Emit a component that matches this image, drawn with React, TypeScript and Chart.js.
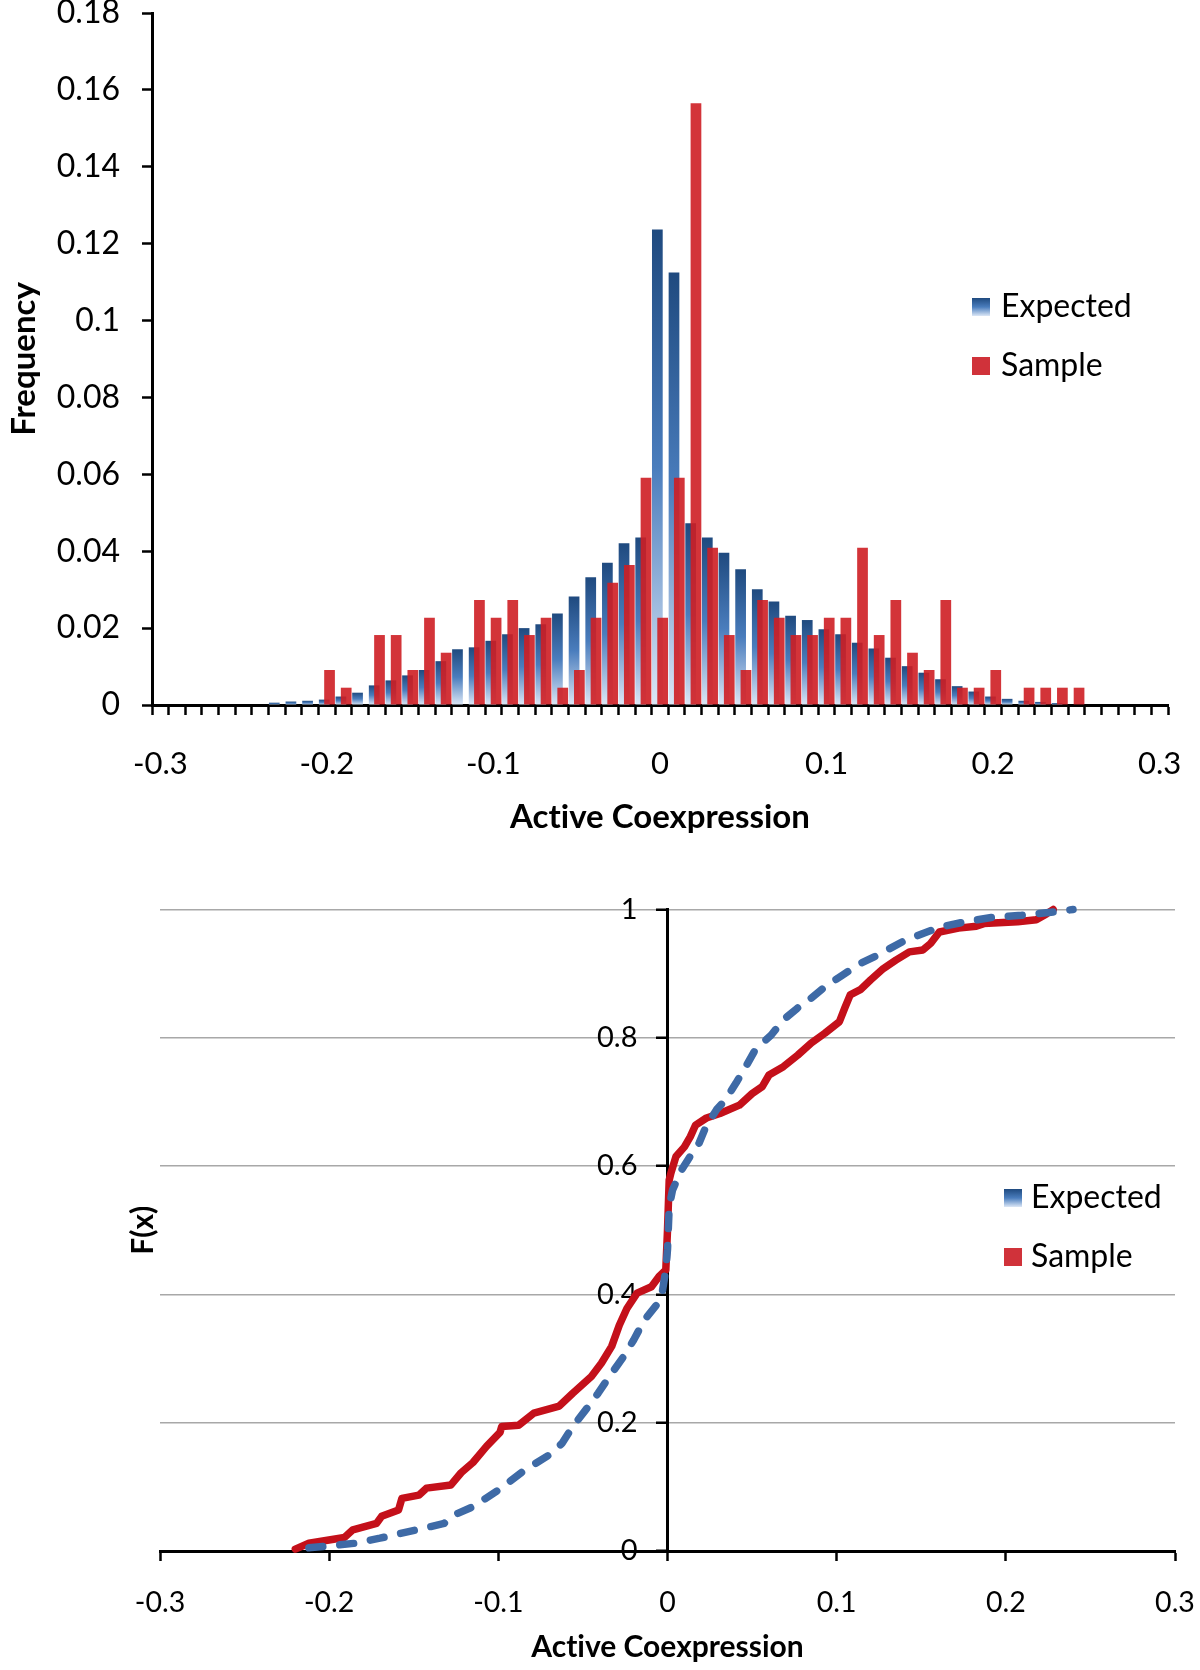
import React, { useEffect, useRef } from 'react';
import { Chart, registerables } from 'chart.js';

Chart.register(...registerables);

// ---------- Histogram data (bins of width 0.01) ----------
const binLabels = [
  '-0.3', '-0.29', '-0.28', '-0.27', '-0.26', '-0.25', '-0.24', '-0.23', '-0.22', '-0.21',
  '-0.2', '-0.19', '-0.18', '-0.17', '-0.16', '-0.15', '-0.14', '-0.13', '-0.12', '-0.11',
  '-0.1', '-0.09', '-0.08', '-0.07', '-0.06', '-0.05', '-0.04', '-0.03', '-0.02', '-0.01',
  '0', '0.01', '0.02', '0.03', '0.04', '0.05', '0.06', '0.07', '0.08', '0.09',
  '0.1', '0.11', '0.12', '0.13', '0.14', '0.15', '0.16', '0.17', '0.18', '0.19',
  '0.2', '0.21', '0.22', '0.23', '0.24', '0.25', '0.26', '0.27', '0.28', '0.29', '0.3',
];

const expectedFreq = [
  0, 0, 0, 0, 0, 0, 0, 0.0006, 0.0009, 0.0011,
  0.0014, 0.0022, 0.0032, 0.0051, 0.0064, 0.0077, 0.0091, 0.0114, 0.0145, 0.015,
  0.0167, 0.0184, 0.02, 0.021, 0.0238, 0.0282, 0.0332, 0.037, 0.0421, 0.0436,
  0.1237, 0.1125, 0.0473, 0.0436, 0.0396, 0.0353, 0.0301, 0.0269, 0.0232, 0.0221,
  0.0197, 0.0184, 0.0162, 0.0147, 0.0123, 0.0101, 0.0084, 0.0067, 0.0049, 0.0035,
  0.0022, 0.0016, 0.0011, 0.0008, 0.0005, 0, 0, 0, 0, 0, 0,
];

const sampleFreq = [
  0, 0, 0, 0, 0, 0, 0, 0, 0, 0,
  0.0091, 0.0045, 0, 0.0182, 0.0182, 0.0091, 0.0227, 0.0136, 0, 0.0273,
  0.0227, 0.0273, 0.0182, 0.0227, 0.0045, 0.0091, 0.0227, 0.0318, 0.0364, 0.0591,
  0.0227, 0.0591, 0.1565, 0.0409, 0.0182, 0.0091, 0.0273, 0.0227, 0.0182, 0.0182,
  0.0227, 0.0227, 0.0409, 0.0182, 0.0273, 0.0136, 0.0091, 0.0273, 0.0045, 0.0045,
  0.0091, 0, 0.0045, 0.0045, 0.0045, 0.0045, 0, 0, 0, 0, 0,
];

// ---------- Cumulative distribution data ----------
const sampleX = [
  -0.22, -0.212, -0.191, -0.186, -0.172, -0.169, -0.159, -0.157, -0.147, -0.1425,
  -0.128, -0.122, -0.115, -0.107, -0.099, -0.098, -0.088, -0.079, -0.064, -0.056,
  -0.045, -0.039, -0.033, -0.0285, -0.024, -0.018, -0.0095, -0.005, -0.001, 0,
  0.001, 0.002, 0.005, 0.01, 0.0135, 0.0166, 0.023, 0.031, 0.0425, 0.05,
  0.056, 0.06, 0.0685, 0.077, 0.085, 0.093, 0.1016, 0.1047, 0.108, 0.114,
  0.12, 0.1276, 0.135, 0.143, 0.151, 0.1555, 0.1607, 0.172, 0.1825, 0.187,
  0.207, 0.218, 0.224, 0.228,
];
const sampleF = [
  0.003, 0.012, 0.021, 0.033, 0.043, 0.054, 0.064, 0.082, 0.087, 0.098,
  0.103, 0.122, 0.138, 0.163, 0.185, 0.194, 0.196, 0.215, 0.226, 0.246,
  0.272, 0.293, 0.319, 0.352, 0.378, 0.402, 0.412, 0.428, 0.438, 0.5,
  0.578, 0.589, 0.615, 0.63, 0.646, 0.664, 0.675, 0.682, 0.695, 0.713,
  0.724, 0.742, 0.755, 0.773, 0.792, 0.807, 0.825, 0.846, 0.867, 0.875,
  0.89, 0.908, 0.921, 0.934, 0.937, 0.947, 0.965, 0.971, 0.974, 0.978,
  0.981, 0.984, 0.993, 1.0,
];

const expectedX = [
  -0.212, -0.1995, -0.185, -0.17, -0.145, -0.132, -0.128, -0.115, -0.1, -0.0855,
  -0.0686, -0.0623, -0.056, -0.0475, -0.041, -0.033, -0.026, -0.02, -0.0137, -0.0063,
  -0.0032, -0.001, 0, 0.001, 0.003, 0.0083, 0.0145, 0.0187, 0.0228, 0.029,
  0.0342, 0.0404, 0.0456, 0.0518, 0.0612, 0.0685, 0.0767, 0.085, 0.0933, 0.1037,
  0.114, 0.1244, 0.139, 0.1514, 0.1617, 0.1763, 0.1928, 0.2094, 0.224, 0.2397,
];
const expectedF = [
  0.005, 0.008, 0.012, 0.02, 0.035, 0.043, 0.054, 0.069, 0.095, 0.124,
  0.152, 0.168, 0.194, 0.223, 0.246, 0.277, 0.303, 0.329, 0.36, 0.384,
  0.402, 0.438, 0.47, 0.537, 0.563, 0.594, 0.62, 0.636, 0.662, 0.688,
  0.703, 0.729, 0.752, 0.781, 0.804, 0.828, 0.846, 0.862, 0.88, 0.898,
  0.916, 0.929, 0.95, 0.963, 0.973, 0.981, 0.988, 0.991, 0.995, 1.0,
];

const seriesLabels = ['Expected', 'Sample'];

// ---------- Styles ----------
const FONT = 'Lato';
const BLACK = '#000000';
const BAR_RED = 'rgba(206, 30, 36, 0.9)';
const SWATCH_RED = '#D0323A';
const LINE_RED = '#C4101A';
const LINE_BLUE = '#3E6AA6';

function blueGradient(ctx: CanvasRenderingContext2D, top: number, bottom: number) {
  const g = ctx.createLinearGradient(0, top, 0, bottom);
  g.addColorStop(0, '#1F4A7F');
  g.addColorStop(0.5, '#4A7DBD');
  g.addColorStop(1, '#DCE7F6');
  return g;
}

// Avoid the "ti" ligature of Lato so words read like the original.
const noLigatures = {
  id: 'noLigatures',
  beforeDraw(chart: any) {
    const ctx: any = chart.ctx;
    try {
      ctx.textRendering = 'optimizeSpeed';
    } catch (e) {
      /* ignore */
    }
  },
};

const sampleOnTop = {
  id: 'sampleOnTop',
  beforeDatasetDraw(_chart: any, args: any) {
    if (args.index === 1) return false;
    return true;
  },
  afterDatasetsDraw(chart: any) {
    const meta = chart.getDatasetMeta(1);
    if (meta && !meta.hidden) meta.controller.draw();
  },
};

const boxLegend = {
  id: 'boxLegend',
  afterDraw(chart: any, _args: any, opts: any) {
    const ctx: CanvasRenderingContext2D = chart.ctx;
    chart.data.datasets.forEach((ds: any, k: number) => {
      const cy = opts.y + k * opts.gap;
      const top = cy - opts.box / 2;
      ctx.save();
      ctx.fillStyle = k === 0 ? blueGradient(ctx, top, top + opts.box) : SWATCH_RED;
      ctx.fillRect(opts.x, top, opts.box, opts.box);
      ctx.fillStyle = BLACK;
      ctx.font = `${opts.size}px ${FONT}`;
      ctx.textAlign = 'left';
      ctx.textBaseline = 'middle';
      ctx.fillText(ds.label, opts.textX, cy);
      ctx.restore();
    });
  },
};

function histogramConfig(): any {
  return {
    type: 'bar',
    data: {
      labels: binLabels,
      datasets: [
        {
          label: seriesLabels[0],
          data: expectedFreq,
          backgroundColor: (c: any) => {
            const chart = c.chart;
            const ys = chart.scales && chart.scales.y;
            if (!ys || c.type !== 'data' || typeof c.raw !== 'number') return '#3A68A4';
            const top = ys.getPixelForValue(c.raw);
            const base = ys.getPixelForValue(0);
            if (!isFinite(top) || !isFinite(base) || base - top < 0.5) return '#2A5A94';
            return blueGradient(chart.ctx, top, base);
          },
          borderWidth: 0,
          categoryPercentage: 0.637,
          barPercentage: 2.02,
        },
        {
          label: seriesLabels[1],
          data: sampleFreq,
          backgroundColor: BAR_RED,
          borderWidth: 0,
          categoryPercentage: 0.637,
          barPercentage: 2.02,
        },
      ],
    },
    options: {
      responsive: false,
      animation: false,
      devicePixelRatio: 1,
      layout: { padding: { left: 0, right: 32, top: 13, bottom: 0 } },
      plugins: {
        legend: { display: false },
        tooltip: { enabled: false },
        boxLegend: { x: 972, y: 307, gap: 59, box: 18, textX: 1001, size: 32 },
      },
      scales: {
        x: {
          type: 'category',
          offset: true,
          grid: {
            display: true,
            offset: true,
            drawOnChartArea: false,
            drawTicks: true,
            tickLength: 10,
            tickWidth: 2.5,
            tickColor: BLACK,
          },
          border: { display: true, color: BLACK, width: 3 },
          ticks: {
            autoSkip: false,
            maxRotation: 0,
            minRotation: 0,
            padding: 30.4,
            color: BLACK,
            font: { family: FONT, size: 31 },
            callback: function (this: any, val: any, index: number) {
              return index % 10 === 0 ? this.getLabelForValue(val) : '';
            },
          },
          title: {
            display: true,
            text: 'Active Coexpression',
            color: BLACK,
            font: { family: FONT, size: 33, weight: 'bold' },
            padding: { top: 0, bottom: 22.6 },
          },
          afterFit: (s: any) => {
            s.height = 155;
            s.paddingLeft = 0;
            s.paddingRight = 0;
          },
        },
        y: {
          type: 'linear',
          min: 0,
          max: 0.18,
          grid: {
            display: true,
            drawOnChartArea: false,
            drawTicks: true,
            tickLength: 10,
            tickWidth: 2.5,
            tickColor: BLACK,
          },
          border: { display: true, color: BLACK, width: 3 },
          ticks: {
            stepSize: 0.02,
            padding: 22,
            color: BLACK,
            font: { family: FONT, size: 32 },
            callback: (v: any) => String(Math.round(Number(v) * 100) / 100),
          },
          title: {
            display: true,
            text: 'Frequency',
            color: BLACK,
            font: { family: FONT, size: 33, weight: 'bold' },
            padding: { top: 4.2, bottom: 0 },
          },
          afterFit: (s: any) => {
            s.width = 152;
            s.paddingTop = 0;
            s.paddingBottom = 0;
          },
        },
      },
    },
    plugins: [noLigatures, sampleOnTop, boxLegend],
  };
}

function cdfConfig(): any {
  return {
    type: 'line',
    data: {
      datasets: [
        {
          label: seriesLabels[0],
          data: expectedX.map((x, i) => ({ x, y: expectedF[i] })),
          borderColor: LINE_BLUE,
          borderWidth: 7.5,
          borderDash: [14, 17],
          borderCapStyle: 'round',
          borderJoinStyle: 'round',
          pointRadius: 0,
          fill: false,
          tension: 0,
          clip: false,
        },
        {
          label: seriesLabels[1],
          data: sampleX.map((x, i) => ({ x, y: sampleF[i] })),
          borderColor: LINE_RED,
          borderWidth: 7.5,
          borderCapStyle: 'round',
          borderJoinStyle: 'round',
          pointRadius: 0,
          fill: false,
          tension: 0,
          clip: false,
        },
      ],
    },
    options: {
      responsive: false,
      animation: false,
      devicePixelRatio: 1,
      layout: { padding: { left: 0, right: 25, top: 49.5, bottom: 0 } },
      plugins: {
        legend: { display: false },
        tooltip: { enabled: false },
        boxLegend: { x: 1004, y: 338, gap: 59, box: 18, textX: 1031, size: 32 },
      },
      scales: {
        x: {
          type: 'linear',
          min: -0.3,
          max: 0.3,
          grid: {
            display: true,
            drawOnChartArea: false,
            drawTicks: true,
            tickLength: 10,
            tickWidth: 2.5,
            tickColor: BLACK,
          },
          border: { display: true, color: BLACK, width: 3 },
          ticks: {
            stepSize: 0.1,
            maxRotation: 0,
            minRotation: 0,
            padding: 24.9,
            color: BLACK,
            font: { family: FONT, size: 28.5 },
            callback: (v: any) => String(Math.round(Number(v) * 10) / 10 || 0),
          },
          title: {
            display: true,
            text: 'Active Coexpression',
            color: BLACK,
            font: { family: FONT, size: 30, weight: 'bold' },
            padding: { top: 0, bottom: 5 },
          },
          afterFit: (s: any) => {
            s.height = 119;
            s.paddingLeft = 0;
            s.paddingRight = 0;
          },
        },
        y: {
          type: 'linear',
          position: 'center',
          min: 0,
          max: 1,
          grid: {
            display: true,
            color: '#A8A8A8',
            lineWidth: 1.5,
            drawOnChartArea: true,
            drawTicks: true,
            tickLength: 10,
            tickWidth: 2.5,
            tickColor: BLACK,
          },
          border: { display: true, color: BLACK, width: 3 },
          ticks: {
            stepSize: 0.2,
            padding: 20,
            color: BLACK,
            font: { family: FONT, size: 29 },
            callback: (v: any) => String(Math.round(Number(v) * 10) / 10),
          },
          afterFit: (s: any) => {
            s.width = 0;
            s.paddingTop = 0;
            s.paddingBottom = 0;
          },
        },
        yt: {
          type: 'linear',
          position: 'left',
          min: 0,
          max: 1,
          ticks: { display: false },
          grid: { display: false },
          border: { display: false },
          title: {
            display: true,
            text: 'F(x)',
            color: BLACK,
            font: { family: FONT, size: 30, weight: 'bold' },
            padding: { top: 125.8, bottom: 0 },
          },
          afterFit: (s: any) => {
            s.width = 160;
            s.paddingTop = 0;
            s.paddingBottom = 0;
          },
        },
      },
    },
    plugins: [noLigatures, boxLegend],
  };
}

function ChartCanvas({ make, top, width, height }: { make: () => any; top: number; width: number; height: number }) {
  const ref = useRef<HTMLCanvasElement | null>(null);
  useEffect(() => {
    if (!ref.current) return;
    const chart = new Chart(ref.current, make());
    return () => chart.destroy();
  }, [make]);
  return (
    <canvas
      ref={ref}
      width={width}
      height={height}
      style={{ position: 'absolute', left: 0, top, width, height, display: 'block' }}
    />
  );
}

export default function App() {
  return (
    <div style={{ position: 'absolute', left: 0, top: 0, width: 1200, height: 1670, background: '#ffffff', overflow: 'hidden' }}>
      <ChartCanvas make={histogramConfig} top={0} width={1200} height={860} />
      <ChartCanvas make={cdfConfig} top={860} width={1200} height={810} />
    </div>
  );
}
